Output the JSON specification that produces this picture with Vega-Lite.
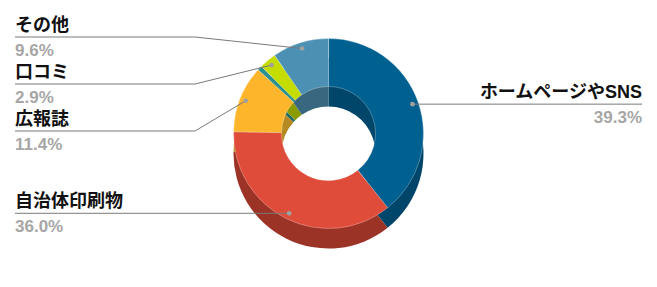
{
  "$schema": "https://vega.github.io/schema/vega-lite/v6.json",
  "width": 657,
  "height": 287,
  "autosize": {"type": "fit", "contains": "padding"},
  "padding": 0,
  "background": "#ffffff",
  "view": {"stroke": null},
  "config": {"font": "Liberation Sans, Noto Sans CJK JP"},
  "data": {
    "values": [
      {"name": "ホームページやSNS", "pct": 39.3},
      {"name": "自治体印刷物", "pct": 36.0},
      {"name": "広報誌", "pct": 11.4},
      {"name": "無回答", "pct": 0.8},
      {"name": "口コミ", "pct": 2.9},
      {"name": "その他", "pct": 9.6}
    ]
  },
  "transform": [
    {"window": [{"op": "row_number", "as": "i"}]},
    {"window": [{"op": "sum", "field": "pct", "as": "cum"}], "sort": [{"field": "i"}], "frame": [null, 0]},
    {"joinaggregate": [{"op": "sum", "field": "pct", "as": "total"}]},
    {"calculate": "2*PI*(datum.cum - datum.pct/2)/datum.total", "as": "mid"},
    {"calculate": "89*sin(datum.mid)", "as": "dx"},
    {"calculate": "-89*cos(datum.mid) - 10", "as": "dy"},
    {"calculate": "datum.mid < PI ? 'right' : 'left'", "as": "side"}
  ],
  "layer": [
    {
      "mark": {"type": "arc", "outerRadius": 95, "innerRadius": 47, "yOffset": 10},
      "encoding": {
        "theta": {"field": "pct", "type": "quantitative", "stack": true},
        "order": {"field": "i", "type": "quantitative"},
        "color": {
          "field": "name", "type": "nominal", "legend": null,
          "scale": {
            "domain": ["ホームページやSNS", "自治体印刷物", "広報誌", "無回答", "口コミ", "その他"],
            "range": ["#00456a", "#9c3327", "#b68a22", "#1c6a6a", "#8a9c00", "#39677f"]
          }
        }
      }
    },
    {
      "mark": {"type": "arc", "outerRadius": 95, "innerRadius": 47, "yOffset": -10, "stroke": "#ffffff", "strokeOpacity": 0.35, "strokeWidth": 0.8},
      "encoding": {
        "theta": {"field": "pct", "type": "quantitative", "stack": true},
        "order": {"field": "i", "type": "quantitative"},
        "fill": {
          "field": "name", "type": "nominal", "legend": null,
          "scale": {
            "domain": ["ホームページやSNS", "自治体印刷物", "広報誌", "無回答", "口コミ", "その他"],
            "range": ["#006090", "#e04c3a", "#fdb62c", "#2a9090", "#c4dc00", "#4c91b4"]
          }
        }
      }
    },
    {
      "transform": [
        {"filter": "datum.name !== '無回答'"},
        {"window": [{"op": "row_number", "as": "rk"}], "groupby": ["side"], "sort": [{"field": "dy"}]},
        {"calculate": "(datum.side === 'right' || datum.dy > 0) ? datum.dy : -106.5 + (datum.rk - 1)*47", "as": "uy"},
        {"calculate": "datum.side === 'right' ? 313.5 : -313.5", "as": "lx"},
        {"calculate": "(datum.side === 'right' || datum.dy > 0) ? datum.dx : -133.5", "as": "ex"},
        {"calculate": "format(datum.pct, '.1f') + '%'", "as": "plabel"}
      ],
      "layer": [
        {
          "mark": {"type": "rule", "color": "#7a7a7a", "strokeWidth": 1},
          "encoding": {
            "x": {"field": "lx", "type": "quantitative", "axis": null, "scale": {"domain": [-328.5, 328.5], "nice": false, "zero": false}},
            "x2": {"field": "ex"},
            "y": {"field": "uy", "type": "quantitative", "axis": null, "scale": {"domain": [-143.5, 143.5], "nice": false, "zero": false, "reverse": true}},
            "y2": {"field": "uy"}
          }
        },
        {
          "mark": {"type": "rule", "color": "#7a7a7a", "strokeWidth": 1},
          "encoding": {
            "x": {"field": "ex", "type": "quantitative", "axis": null, "scale": {"domain": [-328.5, 328.5], "nice": false, "zero": false}},
            "x2": {"field": "dx"},
            "y": {"field": "uy", "type": "quantitative", "axis": null, "scale": {"domain": [-143.5, 143.5], "nice": false, "zero": false, "reverse": true}},
            "y2": {"field": "dy"}
          }
        },
        {
          "mark": {"type": "point", "filled": true, "size": 22, "color": "#a0a0a0", "opacity": 1},
          "encoding": {
            "x": {"field": "dx", "type": "quantitative", "axis": null, "scale": {"domain": [-328.5, 328.5], "nice": false, "zero": false}},
            "y": {"field": "dy", "type": "quantitative", "axis": null, "scale": {"domain": [-143.5, 143.5], "nice": false, "zero": false, "reverse": true}}
          }
        },
        {
          "mark": {"type": "text", "fontSize": 18, "fontWeight": "bold", "color": "#111111", "baseline": "alphabetic", "dy": -6, "align": {"expr": "datum.side === 'right' ? 'right' : 'left'"}},
          "encoding": {
            "x": {"field": "lx", "type": "quantitative", "axis": null, "scale": {"domain": [-328.5, 328.5], "nice": false, "zero": false}},
            "y": {"field": "uy", "type": "quantitative", "axis": null, "scale": {"domain": [-143.5, 143.5], "nice": false, "zero": false, "reverse": true}},
            "text": {"field": "name"}
          }
        },
        {
          "mark": {"type": "text", "fontSize": 17, "fontWeight": "bold", "color": "#a6a6a6", "baseline": "alphabetic", "dy": 19, "align": {"expr": "datum.side === 'right' ? 'right' : 'left'"}},
          "encoding": {
            "x": {"field": "lx", "type": "quantitative", "axis": null, "scale": {"domain": [-328.5, 328.5], "nice": false, "zero": false}},
            "y": {"field": "uy", "type": "quantitative", "axis": null, "scale": {"domain": [-143.5, 143.5], "nice": false, "zero": false, "reverse": true}},
            "text": {"field": "plabel"}
          }
        }
      ]
    }
  ],
  "resolve": {"scale": {"color": "independent", "fill": "independent"}}
}
